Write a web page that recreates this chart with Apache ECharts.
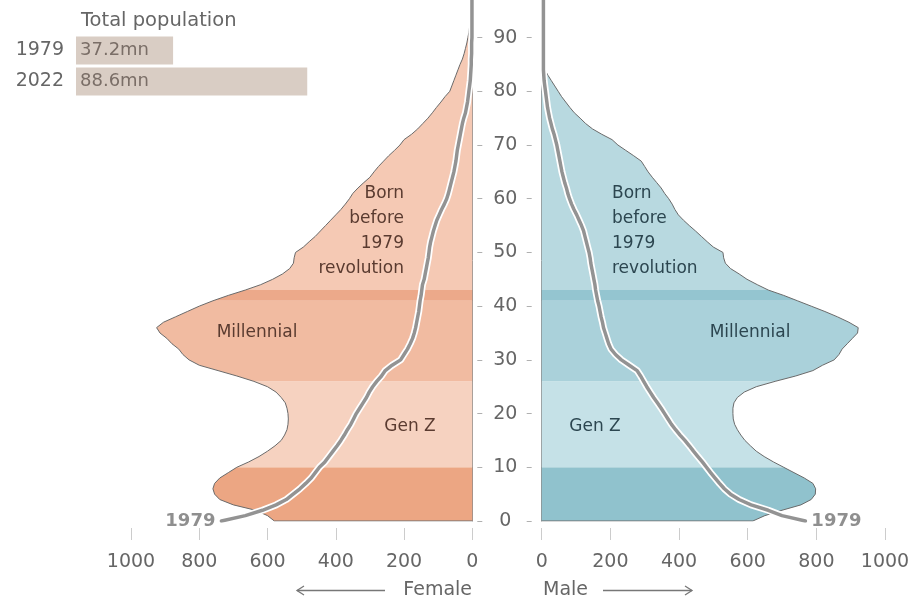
<!DOCTYPE html>
<html>
<head>
<meta charset="utf-8">
<script src="https://cdn.jsdelivr.net/npm/echarts@6/dist/echarts.min.js"></script>
<style>
html,body{margin:0;padding:0;background:#fff;}
#chart{width:914px;height:603px;}
</style>
</head>
<body>
<div id="chart"></div>
<script>
// ---- DATA ----
// single-year ages 0..97 (thousands of people)
const ages = Array.from({length: 98}, (_, i) => String(i));

const female2022 = [
 580,600,635,700,740,755,760,755,740,715,
 690,655,625,600,578,560,550,543,540,539,
 540,543,548,560,575,600,640,690,745,800,
 830,848,860,880,895,915,925,905,870,835,
 800,760,715,665,620,585,556,535,524,522,
 518,495,478,460,445,430,415,400,385,372,
 360,350,335,318,300,288,275,260,245,228,
 212,200,178,160,145,130,117,105,92,80,
 66,60,54,48,42,36,29,24,20,16,
 13,10,8,6,4,3,2,1
];
const male2022 = [
 615,650,700,755,785,797,798,790,765,735,
 705,675,648,625,608,592,580,570,562,558,
 557,557,560,570,590,625,680,740,790,818,
 852,866,875,890,905,920,922,895,862,825,
 785,745,705,660,628,598,575,550,535,530,
 528,500,482,465,448,430,413,398,388,380,
 370,358,348,335,322,310,300,290,268,245,
 222,205,175,148,128,112,95,82,70,58,
 48,38,28,18,10,5,3,2,2,1,
 1,1,1,0,0,0,0,0
];
const female1979 = [
 735,665,615,575,545,525,505,488,472,460,
 448,432,420,408,396,385,375,366,356,348,
 340,330,320,310,302,292,280,266,255,235,
 210,200,190,182,175,170,166,163,160,157,
 155,153,150,148,146,141,138,135,132,129,
 127,125,122,118,114,109,104,97,90,82,
 75,70,66,62,58,54,51,48,46,44,
 41,38,35,32,29,25,20,17,14,12,
 10,8,6,5,4,3,3,2,2,2,
 1,1,1,1,1,1,1,1
];
const male1979 = [
 768,700,660,610,575,550,532,518,505,492,
 480,468,455,442,430,417,403,390,378,368,
 358,348,337,326,316,306,297,288,278,255,
 232,215,202,195,190,185,180,177,173,170,
 167,163,160,157,155,152,149,146,143,141,
 138,134,130,126,122,116,109,102,94,87,
 81,76,72,67,63,59,56,53,50,47,
 44,40,36,31,27,23,20,17,15,13,
 11,9,7,6,5,5,5,5,5,5,
 5,5,5,5,5,5,5,5
];
// generation band boundaries (age)
const bandStarts = [0, 10, 26, 41, 43];
const bandEnds   = [10, 26, 41, 43, 97];
const femaleBandColors = ['#eca683', '#f6d2c0', '#f1bba1', '#eca98a', '#f5c9b4'];
const maleBandColors   = ['#90c2cd', '#c5e1e7', '#aad1da', '#94c5d0', '#b8d9e0'];

const totalYears = ['1979', '2022'];
const totalPop = [37.2, 88.6];

// ---- CHART ----
const FONT = 'DejaVu Sans';
const chart = echarts.init(document.getElementById('chart'), null, {renderer: 'canvas'});

function pairs(arr, from, to) {
  const out = [];
  for (let a = from; a <= to; a++) out.push([arr[a], a]);
  return out;
}

const series = [];
for (let b = 0; b < bandStarts.length; b++) {
  series.push({
    type: 'line', xAxisIndex: 0, yAxisIndex: 0, silent: true, symbol: 'none', z: 2,
    data: pairs(female2022, bandStarts[b], bandEnds[b]),
    lineStyle: {width: 0}, areaStyle: {color: femaleBandColors[b], opacity: 1}
  });
  series.push({
    type: 'line', xAxisIndex: 1, yAxisIndex: 2, silent: true, symbol: 'none', z: 2,
    data: pairs(male2022, bandStarts[b], bandEnds[b]),
    lineStyle: {width: 0}, areaStyle: {color: maleBandColors[b], opacity: 1}
  });
}
// outlines
series.push({type: 'line', xAxisIndex: 0, yAxisIndex: 0, silent: true, symbol: 'none', z: 3,
  data: [[0, 0]].concat(pairs(female2022, 0, 97)), lineStyle: {color: '#6a6a6a', width: 1}});
series.push({type: 'line', xAxisIndex: 1, yAxisIndex: 2, silent: true, symbol: 'none', z: 3,
  data: [[0, 0]].concat(pairs(male2022, 0, 97)), lineStyle: {color: '#6a6a6a', width: 1}});
// 1979 lines with white halo
[[female1979, 0, 0], [male1979, 1, 2]].forEach(function (s) {
  series.push({type: 'line', xAxisIndex: s[1], yAxisIndex: s[2], silent: true, symbol: 'none', z: 4,
    data: pairs(s[0], 0, 97), lineStyle: {color: '#ffffff', width: 7, join: 'round', cap: 'round'}});
  series.push({type: 'line', xAxisIndex: s[1], yAxisIndex: s[2], silent: true, symbol: 'none', z: 5,
    data: pairs(s[0], 0, 97), lineStyle: {color: '#939393', width: 3.5, join: 'round', cap: 'round'}});
});
// "1979" end labels
series.push({type: 'scatter', xAxisIndex: 0, yAxisIndex: 0, silent: true, symbolSize: 0, z: 6,
  data: [[female1979[0], 0]],
  label: {show: true, position: 'left', distance: 6, formatter: '1979', color: '#737373',
    fontFamily: FONT, fontSize: 18, fontWeight: 'bold'}});
series.push({type: 'scatter', xAxisIndex: 1, yAxisIndex: 2, silent: true, symbolSize: 0, z: 6,
  data: [[male1979[0], 0]],
  label: {show: true, position: 'right', distance: 6, formatter: '1979', color: '#737373',
    fontFamily: FONT, fontSize: 18, fontWeight: 'bold'}});
// total population bars
series.push({type: 'bar', xAxisIndex: 2, yAxisIndex: 4, silent: true, barCategoryGap: '10%',
  data: totalPop, itemStyle: {color: '#d9cdc4'},
  label: {show: true, position: 'insideLeft', distance: 4, formatter: '{c}mn', color: '#7a6e67',
    fontFamily: FONT, fontSize: 18}});

const valueAxisCommon = {
  type: 'value', min: 0, max: 1000, interval: 200, offset: 7,
  axisLine: {show: false},
  axisTick: {show: true, length: 12, lineStyle: {color: '#cccccc', width: 1}},
  splitLine: {show: false},
  axisLabel: {color: '#666666', fontFamily: FONT, fontSize: 19, margin: 25,
    formatter: function (v) { return String(v); }}
};

const catAxisCommon = {
  type: 'category', data: ages, boundaryGap: false,
  splitLine: {show: false}
};

const annText = function (x, y, text, color, align, vAlign) {
  return {type: 'text', x: x, y: y, silent: true, z: 100,
    style: {text: text, fill: color, font: '17px "' + FONT + '"', align: align,
      verticalAlign: vAlign || 'middle', lineHeight: 25}};
};

const option = {
  animation: false,
  backgroundColor: '#ffffff',
  title: {text: 'Total population', left: 76, top: 6,
    textStyle: {color: '#666666', fontFamily: FONT, fontSize: 19.5, fontWeight: 'normal'}},
  grid: [
    {left: 131, right: 914 - 472.3, top: -1, bottom: 82},
    {left: 541.7, right: 914 - 885, top: -1, bottom: 82},
    {left: 76, width: 261, top: 35, height: 62}
  ],
  xAxis: [
    Object.assign({}, valueAxisCommon, {gridIndex: 0, inverse: true}),
    Object.assign({}, valueAxisCommon, {gridIndex: 1}),
    {type: 'value', gridIndex: 2, min: 0, max: 100, show: false}
  ],
  yAxis: [
    Object.assign({}, catAxisCommon, {gridIndex: 0, position: 'right',
      axisLine: {show: true, lineStyle: {color: '#8a8a8a', width: 1}},
      axisTick: {show: false},
      axisLabel: {show: true, interval: 9, align: 'center', margin: 33, color: '#666666',
        fontFamily: FONT, fontSize: 19}}),
    Object.assign({}, catAxisCommon, {gridIndex: 0, position: 'right', offset: 5,
      axisLine: {show: false},
      axisTick: {show: true, interval: 9, length: 5, lineStyle: {color: '#b0b0b0'}},
      axisLabel: {show: false}}),
    Object.assign({}, catAxisCommon, {gridIndex: 1, position: 'left',
      axisLine: {show: true, lineStyle: {color: '#8a8a8a', width: 1}},
      axisTick: {show: false}, axisLabel: {show: false}}),
    Object.assign({}, catAxisCommon, {gridIndex: 1, position: 'left', offset: 10,
      axisLine: {show: false},
      axisTick: {show: true, interval: 9, length: 5, lineStyle: {color: '#b0b0b0'}},
      axisLabel: {show: false}}),
    {type: 'category', gridIndex: 2, data: totalYears, inverse: true,
      axisLine: {show: false}, axisTick: {show: false},
      axisLabel: {color: '#666666', fontFamily: FONT, fontSize: 19, margin: 12}}
  ],
  series: series,
  graphic: [
    annText(404, 181, 'Born\nbefore\n1979\nrevolution', '#5a3b30', 'right', 'top'),
    annText(612, 181, 'Born\nbefore\n1979\nrevolution', '#2c4650', 'left', 'top'),
    annText(257, 333, 'Millennial', '#5a3b30', 'center'),
    annText(750, 333, 'Millennial', '#2c4650', 'center'),
    annText(410, 427, 'Gen Z', '#5a3b30', 'center'),
    annText(595, 427, 'Gen Z', '#2c4650', 'center'),
    {type: 'text', x: 472, y: 590, silent: true,
      style: {text: 'Female', fill: '#666666', font: '19px "' + FONT + '"', align: 'right', verticalAlign: 'middle'}},
    {type: 'text', x: 543, y: 590, silent: true,
      style: {text: 'Male', fill: '#666666', font: '19px "' + FONT + '"', align: 'left', verticalAlign: 'middle'}},
    {type: 'polyline', silent: true, shape: {points: [[385, 590.5], [297, 590.5]]},
      style: {stroke: '#777777', lineWidth: 1.3, fill: null}},
    {type: 'polyline', silent: true, shape: {points: [[304, 586], [297, 590.5], [304, 595]]},
      style: {stroke: '#777777', lineWidth: 1.3, fill: null}},
    {type: 'polyline', silent: true, shape: {points: [[603, 590.5], [692, 590.5]]},
      style: {stroke: '#777777', lineWidth: 1.3, fill: null}},
    {type: 'polyline', silent: true, shape: {points: [[685, 586], [692, 590.5], [685, 595]]},
      style: {stroke: '#777777', lineWidth: 1.3, fill: null}}
  ]
};
chart.setOption(option);
</script>
</body>
</html>
